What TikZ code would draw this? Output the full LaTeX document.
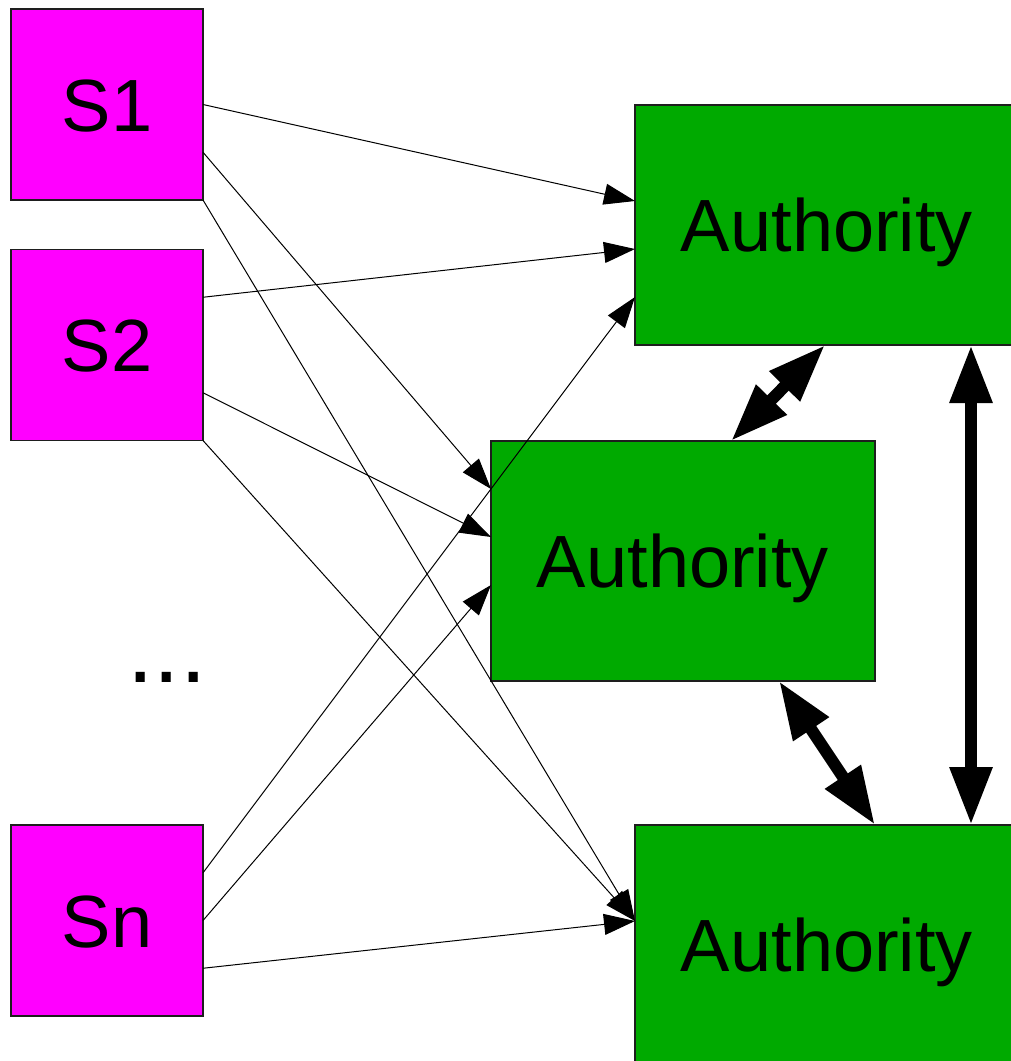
\documentclass[tikz,border=0pt]{standalone}
\usepackage{fontspec}
\setmainfont{Liberation Sans}
\usetikzlibrary{arrows.meta,calc}
\definecolor{srcmag}{RGB}{255,0,255}
\definecolor{authgreen}{RGB}{0,170,0}
\definecolor{edgeline}{RGB}{30,30,30}

\begin{document}
\begin{tikzpicture}[x=1pt,y=-1pt,
  box/.style={draw=edgeline,line width=1.3pt,inner sep=0pt,outer sep=0pt,
    font=\fontsize{74}{80}\selectfont,text height=53pt,text depth=0pt},
  source/.style={box,fill=srcmag,minimum width=192pt,minimum height=191pt},
  authority/.style={box,fill=authgreen,minimum width=384pt,minimum height=240pt},
  feed/.style={line width=1pt,-{Triangle[length=31pt,width=21pt]}},
  link/.style={line width=12pt,
    {Triangle[length=58pt,width=40pt]}-{Triangle[length=58pt,width=40pt]}}]

\useasboundingbox (0,0) rectangle (1011,1061);
\clip (0,0) rectangle (1011,1061);

% sources
\node[source] (s1) at (107,104.5) {S1};
\node[source] (s2) at (107,345) {S2};
\node[source] (sn) at (107,920.5) {Sn};
\node[anchor=base,inner sep=0pt,font=\fontsize{95}{95}\selectfont] (dots) at (167,682) {...};

% authorities
\node[authority] (a1) at (827,225) {Authority};
\node[authority] (a2) at (683,561) {Authority};
\node[authority] (a3) at (827,945) {Authority};

% reports from every source to every authority
\draw[feed] ($(s1.north east)!0.5!(s1.south east)$)  -- ($(a1.north west)!0.4!(a1.south west)$);
\draw[feed] ($(s1.north east)!0.75!(s1.south east)$) -- ($(a2.north west)!0.2!(a2.south west)$);
\draw[feed] (s1.south east)                            -- ($(a3.north west)!0.4!(a3.south west)$);

\draw[feed] ($(s2.north east)!0.25!(s2.south east)$) -- ($(a1.north west)!0.6!(a1.south west)$);
\draw[feed] ($(s2.north east)!0.75!(s2.south east)$) -- ($(a2.north west)!0.4!(a2.south west)$);
\draw[feed] (s2.south east)                            -- ($(a3.north west)!0.4!(a3.south west)$);

\draw[feed] ($(sn.north east)!0.25!(sn.south east)$) -- ($(a1.north west)!0.8!(a1.south west)$);
\draw[feed] ($(sn.north east)!0.5!(sn.south east)$)  -- ($(a2.north west)!0.6!(a2.south west)$);
\draw[feed] ($(sn.north east)!0.75!(sn.south east)$) -- ($(a3.north west)!0.4!(a3.south west)$);

% links between authorities
\draw[link] ($(a1.south west)!0.495!(a1.south east)$) -- ($(a2.north west)!0.625!(a2.north east)$);
\draw[link] ($(a2.south west)!0.75!(a2.south east)$)  -- ($(a3.north west)!0.625!(a3.north east)$);
\draw[link] ($(a1.south west)!0.875!(a1.south east)$) -- ($(a3.north west)!0.875!(a3.north east)$);
\end{tikzpicture}
\end{document}
